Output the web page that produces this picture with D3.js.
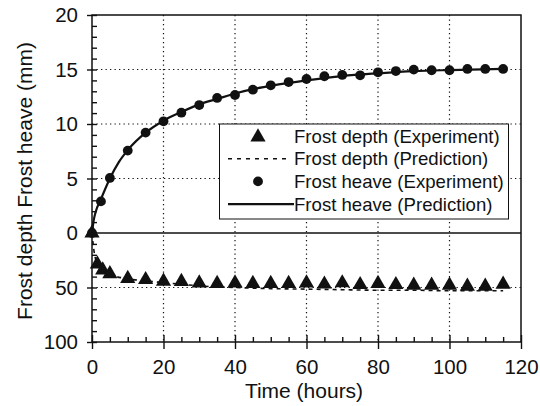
<!DOCTYPE html>
<html>
<head>
<meta charset="utf-8">
<script src="https://cdn.jsdelivr.net/npm/d3@7"></script>
<style>
  body { margin: 0; background: #fff; }
  svg { font-family: "Liberation Sans", Arial, sans-serif; }
</style>
</head>
<body>
<svg id="chart" width="540" height="406"></svg>
<script>
// frost heave (mm), experiment
const heaveTimes = [0, 2.5, 5, 10, 15, 20, 25, 30, 35, 40, 45, 50, 55, 60, 65, 70, 75, 80, 85, 90, 95, 100, 105, 110, 115];
const heaveExp = [0, 2.9, 5.05, 7.56, 9.21, 10.25, 11.04, 11.74, 12.39, 12.66, 13.15, 13.55, 13.85, 14.13, 14.38, 14.5, 14.47, 14.74, 14.86, 14.99, 14.93, 14.93, 15.05, 15.05, 15.05];

// frost depth, experiment
const depthTimes = [0, 1.5, 3, 5, 10, 15, 20, 25, 30, 35, 40, 45, 50, 55, 60, 65, 70, 75, 80, 85, 90, 95, 100, 105, 110, 115];
const depthExp = [0, 28.5, 34, 37.5, 41.8, 42.8, 44.3, 44.5, 46, 46.4, 45.9, 46.4, 46.4, 46.4, 45.9, 47, 45.8, 47.4, 46.4, 47.4, 48, 48, 48, 48.9, 48.9, 47.1];

// predictions
const heavePredTimes = [0, 0.5, 1, 2.5, 5, 7.5, 10, 15, 20, 25, 30, 35, 40, 45, 50, 60, 70, 80, 90, 100, 115];
const heavePred = [0, 1.2, 1.9, 3.1, 5.0, 6.5, 7.6, 9.2, 10.3, 11.1, 11.8, 12.3, 12.8, 13.2, 13.5, 14.0, 14.4, 14.65, 14.85, 14.95, 15.05];
const depthPredTimes = [0, 0.5, 1, 2, 3, 5, 10, 15, 20, 25, 30, 40, 50, 60, 70, 80, 90, 100, 115];
const depthPred = [0, 15, 24, 31, 34.5, 38, 42, 44, 45.5, 47, 48.5, 50, 51, 51.5, 52, 52.5, 52.5, 53, 53];

const xTicks = [0, 20, 40, 60, 80, 100, 120];
const heaveTicks = [0, 5, 10, 15, 20];
const depthTicks = [50, 100];
const legendLabels = ["Frost depth (Experiment)", "Frost depth (Prediction)", "Frost heave (Experiment)", "Frost heave (Prediction)"];

const svg = d3.select("#chart");
const ink = "#111";

const x = d3.scaleLinear().domain([0, 120]).range([92, 521]);
const yHeave = d3.scaleLinear().domain([0, 20]).range([233, 15]);
const yDepth = d3.scaleLinear().domain([0, 100]).range([233, 342]);

// grid
const grid = svg.append("g")
    .attr("stroke", ink)
    .attr("stroke-width", 1.2)
    .attr("stroke-dasharray", "1.3,3.2");
grid.selectAll("line.v")
  .data(xTicks.slice(1, -1))
  .enter().append("line")
    .attr("x1", d => x(d)).attr("x2", d => x(d))
    .attr("y1", yHeave(20)).attr("y2", yDepth(100));
grid.selectAll("line.h")
  .data([yHeave(5), yHeave(10), yHeave(15), yDepth(50)])
  .enter().append("line")
    .attr("x1", x(0)).attr("x2", x(120))
    .attr("y1", d => d).attr("y2", d => d);

// zero line
svg.append("line")
    .attr("x1", x(0)).attr("x2", x(120))
    .attr("y1", yHeave(0)).attr("y2", yHeave(0))
    .attr("stroke", ink).attr("stroke-width", 1.5);

// prediction lines
const heaveLine = d3.line()
    .x((d, i) => x(heavePredTimes[i]))
    .y(d => yHeave(d))
    .curve(d3.curveMonotoneX);
const depthLine = d3.line()
    .x((d, i) => x(depthPredTimes[i]))
    .y(d => yDepth(d))
    .curve(d3.curveMonotoneX);

svg.append("path")
    .attr("d", depthLine(depthPred))
    .attr("fill", "none").attr("stroke", ink)
    .attr("stroke-width", 1.6).attr("stroke-dasharray", "4,4");
svg.append("path")
    .attr("d", heaveLine(heavePred))
    .attr("fill", "none").attr("stroke", ink)
    .attr("stroke-width", 2.2);

// markers
const tri = d3.symbol().type(d3.symbolTriangle).size(100);
svg.append("g").selectAll("path")
  .data(depthExp)
  .enter().append("path")
    .attr("d", tri)
    .attr("transform", (d, i) => `translate(${x(depthTimes[i])},${yDepth(d)})`)
    .attr("fill", ink);

svg.append("g").selectAll("circle")
  .data(heaveExp)
  .enter().append("circle")
    .attr("cx", (d, i) => x(heaveTimes[i]))
    .attr("cy", d => yHeave(d))
    .attr("r", 4.9)
    .attr("fill", ink);

// legend
const legend = svg.append("g");
legend.append("rect")
    .attr("x", 219.5).attr("y", 124).attr("width", 289).attr("height", 95)
    .attr("fill", "#fff").attr("stroke", ink).attr("stroke-width", 1);
const rowY = i => 136 + i * 22.7;
legend.append("path")
    .attr("d", tri)
    .attr("transform", `translate(258,${rowY(0) + 1})`)
    .attr("fill", ink);
legend.append("line")
    .attr("x1", 228).attr("x2", 288).attr("y1", rowY(1)).attr("y2", rowY(1))
    .attr("stroke", ink).attr("stroke-width", 1.6).attr("stroke-dasharray", "4,5");
legend.append("circle")
    .attr("cx", 258).attr("cy", rowY(2)).attr("r", 4.9).attr("fill", ink);
legend.append("line")
    .attr("x1", 228).attr("x2", 294).attr("y1", rowY(3)).attr("y2", rowY(3))
    .attr("stroke", ink).attr("stroke-width", 2.2);
legend.selectAll("text")
  .data(legendLabels)
  .enter().append("text")
    .attr("x", 294)
    .attr("y", (d, i) => rowY(i))
    .attr("dy", "0.36em")
    .attr("font-size", 18.6)
    .attr("fill", ink)
    .text(d => d);

// axes
function styleAxis(g) {
  g.select(".domain").remove();
  g.selectAll("line").attr("stroke", ink).attr("stroke-width", 1.4);
  g.selectAll("text").attr("font-size", 20.5).attr("fill", ink)
    .attr("font-family", "'Liberation Sans', Arial, sans-serif");
}

const xAxis = svg.append("g")
    .attr("transform", `translate(0,${yDepth(100)})`)
    .call(d3.axisBottom(x).tickValues(xTicks).tickSize(7).tickPadding(10))
    .call(styleAxis);
xAxis.selectAll(".tick line").attr("y1", -7);

svg.append("g")
    .attr("transform", `translate(0,${yDepth(100)})`)
    .call(d3.axisTop(x).tickValues(d3.range(5, 120, 5).filter(d => d % 20)).tickSize(5).tickFormat(""))
    .call(styleAxis);

const yA1 = svg.append("g")
    .attr("transform", `translate(${x(0)},0)`)
    .call(d3.axisLeft(yHeave).tickValues(heaveTicks).tickSize(5).tickPadding(9))
    .call(styleAxis);
const yA2 = svg.append("g")
    .attr("transform", `translate(${x(0)},0)`)
    .call(d3.axisLeft(yDepth).tickValues(depthTicks).tickSize(5).tickPadding(9))
    .call(styleAxis);
yA1.selectAll(".tick line").attr("x1", 5);
yA2.selectAll(".tick line").attr("x1", 5);

svg.append("g")
    .attr("transform", `translate(${x(0)},0)`)
    .call(d3.axisRight(yHeave).tickValues(d3.range(1, 20).filter(d => d % 5)).tickSize(5).tickFormat(""))
    .call(styleAxis);
svg.append("g")
    .attr("transform", `translate(${x(0)},0)`)
    .call(d3.axisRight(yDepth).tickValues([10, 20, 30, 40, 60, 70, 80, 90]).tickSize(5).tickFormat(""))
    .call(styleAxis);

// frame
svg.append("rect")
    .attr("x", x(0)).attr("y", yHeave(20))
    .attr("width", x(120) - x(0)).attr("height", yDepth(100) - yHeave(20))
    .attr("fill", "none").attr("stroke", ink).attr("stroke-width", 1.5);

// titles
svg.append("text")
    .attr("x", 304).attr("y", 398)
    .attr("text-anchor", "middle")
    .attr("font-size", 21).attr("fill", ink)
    .text("Time (hours)");
svg.append("text")
    .attr("transform", "translate(32,181) rotate(-90)")
    .attr("text-anchor", "middle")
    .attr("font-size", 21).attr("fill", ink)
    .text("Frost depth Frost heave (mm)");
</script>
</body>
</html>
